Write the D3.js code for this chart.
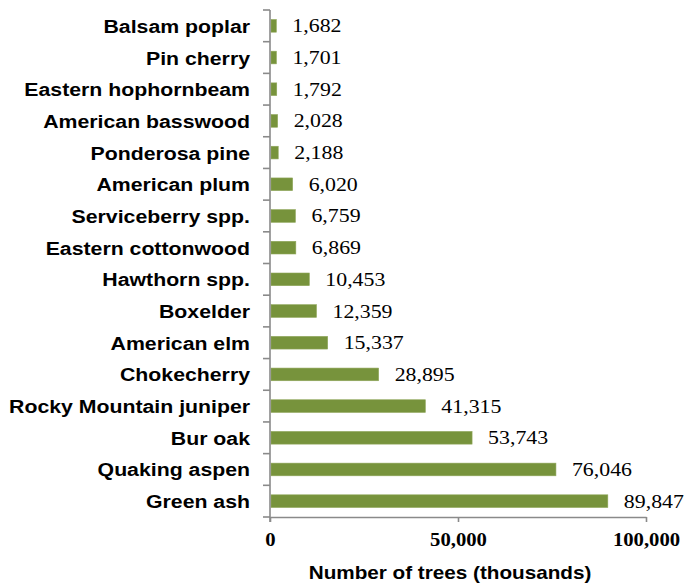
<!DOCTYPE html>
<html>
<head>
<meta charset="utf-8">
<script src="https://cdn.jsdelivr.net/npm/d3@7"></script>
<style>
  html, body { margin: 0; padding: 0; background: #ffffff; }
  svg { display: block; }
</style>
</head>
<body>
<svg id="chart" width="692" height="584"></svg>
<script>
// Tree species, listed top to bottom
const species = [
  "Balsam poplar", "Pin cherry", "Eastern hophornbeam", "American basswood",
  "Ponderosa pine", "American plum", "Serviceberry spp.", "Eastern cottonwood",
  "Hawthorn spp.", "Boxelder", "American elm", "Chokecherry",
  "Rocky Mountain juniper", "Bur oak", "Quaking aspen", "Green ash"
];
// Number of trees, thousands
const treeCounts = [
  1682, 1701, 1792, 2028, 2188, 6020, 6759, 6869,
  10453, 12359, 15337, 28895, 41315, 53743, 76046, 89847
];
const xTicks = [0, 50000, 100000];
const xTitle = "Number of trees (thousands)";

const svg = d3.select("#chart");
const x0 = 270, x1 = 646, yTop = 10, yBottom = 517;
const sx = 1.15; // horizontal stretch applied to the lettering

const x = d3.scaleLinear().domain([0, 100000]).range([x0, x1]);
const y = d3.scaleBand().domain(species).range([yTop, yBottom]).paddingInner(0.6).paddingOuter(0.3);
const bandStep = (yBottom - yTop) / species.length;
const fmt = d3.format(",");
const axisColor = "#8a8a8a";
const barColor = "#77933c";

// Bars
svg.append("g").selectAll("rect")
  .data(species)
  .join("rect")
  .attr("x", x(0) + 1)
  .attr("y", d => y(d))
  .attr("width", (d, i) => x(treeCounts[i]) - x(0) - 1)
  .attr("height", y.bandwidth())
  .attr("fill", barColor)
  .attr("stroke", "#8fa65a")
  .attr("stroke-width", 0.6);

// Value labels
svg.append("g").selectAll("text")
  .data(species)
  .join("text")
  .attr("transform", (d, i) => `translate(${x(treeCounts[i]) + 16},${y(d) + y.bandwidth() / 2 + 6.5}) scale(${sx},1)`)
  .attr("font-family", "'Liberation Serif', 'Times New Roman', serif")
  .attr("font-size", 19)
  .attr("fill", "#000")
  .text((d, i) => fmt(treeCounts[i]));

// Category labels
svg.append("g").selectAll("text")
  .data(species)
  .join("text")
  .attr("transform", d => `translate(250,${y(d) + y.bandwidth() / 2 + 7}) scale(${sx},1)`)
  .attr("text-anchor", "end")
  .attr("font-family", "'Liberation Sans', Arial, sans-serif")
  .attr("font-weight", "bold")
  .attr("font-size", 18.5)
  .attr("fill", "#000")
  .text(d => d);

// Left axis line with ticks on the category boundaries
const left = svg.append("g");
left.append("line")
  .attr("x1", x0).attr("x2", x0)
  .attr("y1", yTop).attr("y2", yBottom + 5)
  .attr("stroke", axisColor).attr("stroke-width", 1.6);
left.selectAll("line.tick")
  .data(d3.range(species.length + 1))
  .join("line")
  .attr("class", "tick")
  .attr("x1", x0 - 7).attr("x2", x0)
  .attr("y1", i => yTop + i * bandStep)
  .attr("y2", i => yTop + i * bandStep)
  .attr("stroke", axisColor).attr("stroke-width", 1.6);

// Bottom value axis
const xAxis = d3.axisBottom(x)
  .tickValues(xTicks)
  .tickFormat(fmt)
  .tickSizeInner(5)
  .tickSizeOuter(0)
  .tickPadding(0);
const gx = svg.append("g")
  .attr("transform", `translate(0,${yBottom})`)
  .call(xAxis);
gx.select(".domain").attr("stroke", axisColor).attr("stroke-width", 1.6);
gx.selectAll(".tick line").attr("stroke", axisColor).attr("stroke-width", 1.6);
gx.selectAll(".tick text")
  .attr("y", 29)
  .attr("dy", null)
  .attr("transform", `scale(${sx},1)`)
  .attr("font-family", "'Liberation Serif', 'Times New Roman', serif")
  .attr("font-weight", "bold")
  .attr("font-size", 18)
  .attr("fill", "#000");

// Axis title
svg.append("text")
  .attr("transform", `translate(450,579) scale(${sx},1)`)
  .attr("text-anchor", "middle")
  .attr("font-family", "'Liberation Sans', Arial, sans-serif")
  .attr("font-weight", "bold")
  .attr("font-size", 18)
  .attr("fill", "#000")
  .text(xTitle);
</script>
</body>
</html>
